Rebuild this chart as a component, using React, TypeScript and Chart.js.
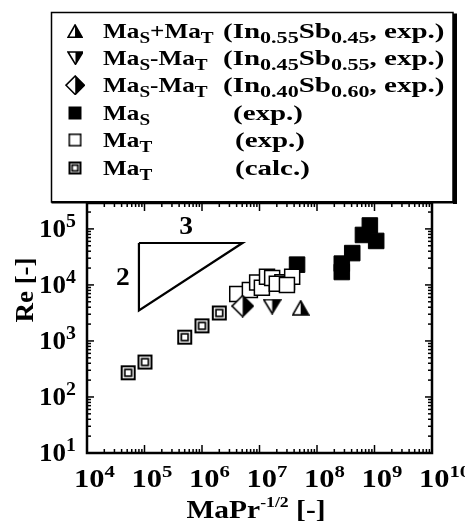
import React, { useEffect, useRef } from "react";
import { Chart, registerables } from "chart.js";

Chart.register(...registerables);

// ---------------- data ----------------
const X_TICK_EXP = [4, 5, 6, 7, 8, 9, 10];
const Y_TICK_EXP = [1, 2, 3, 4, 5];

// MaS+MaT (In0.55Sb0.45, exp.)
const IN055_X = [5.2e7];
const IN055_Y = [3900];
// MaS-MaT (In0.45Sb0.55, exp.)
const IN045_X = [1.66e7];
const IN045_Y = [4100];
// MaS-MaT (In0.40Sb0.60, exp.)
const IN040_X = [5.1e6];
const IN040_Y = [4200];
// MaS (exp.)
const MAS_X = [4.5e7, 3.0e7, 2.7e8, 2.7e8, 4.1e8, 6.3e8, 8.3e8, 1.07e9];
const MAS_Y = [2.3e4, 1.1e4, 1.7e4, 2.4e4, 3.7e4, 7.8e4, 1.15e5, 6.1e4];
// MaT (exp.)
const MAT_EXP_X = [4.1e6, 6.8e6, 9.1e6, 1.1e7, 1.35e7, 1.66e7, 2.5e7, 3.7e7, 2.0e7, 3.0e7];
const MAT_EXP_Y = [6900, 8100, 1.1e4, 8900, 1.4e4, 1.33e4, 1.12e4, 1.4e4, 1.05e4, 1.0e4];
// MaT (calc.)
const MAT_CALC_X = [5.2e4, 1.02e5, 5.0e5, 1.0e6, 2.0e6];
const MAT_CALC_Y = [270, 420, 1170, 1860, 3160];
// slope 2/3 guide triangle
const SLOPE_X = [8e4, 5.05e6, 8e4, 8e4];
const SLOPE_Y = [5.6e4, 5.6e4, 3.5e3, 5.6e4];
const SLOPE_LABELS = ["3", "2"];
const SLOPE_LABEL_X = [5.3e5, 4.2e4];
const SLOPE_LABEL_Y = [1.15e5, 1.4e4];

type Part = [string, boolean];
const LEGEND_MARKERS = ["triUp", "triDown", "diamond", "filled", "open", "double"];
const LEGEND_NAMES: Part[][] = [
  [["Ma", false], ["S", true], ["+Ma", false], ["T", true]],
  [["Ma", false], ["S", true], ["-Ma", false], ["T", true]],
  [["Ma", false], ["S", true], ["-Ma", false], ["T", true]],
  [["Ma", false], ["S", true]],
  [["Ma", false], ["T", true]],
  [["Ma", false], ["T", true]],
];
const LEGEND_CONDS: Part[][] = [
  [["(In", false], ["0.55", true], ["Sb", false], ["0.45", true], [", exp.)", false]],
  [["(In", false], ["0.45", true], ["Sb", false], ["0.55", true], [", exp.)", false]],
  [["(In", false], ["0.40", true], ["Sb", false], ["0.60", true], [", exp.)", false]],
  [["(exp.)", false]],
  [["(exp.)", false]],
  [["(calc.)", false]],
];

// ---------------- helpers ----------------
const SERIF = '"Liberation Serif", "Times New Roman", serif';
const pts = (xs: number[], ys: number[]) => xs.map((x, i) => ({ x, y: ys[i] }));

function makeCanvas(w: number, h: number, draw: (g: CanvasRenderingContext2D) => void) {
  const c = document.createElement("canvas");
  c.width = w;
  c.height = h;
  const g = c.getContext("2d")!;
  draw(g);
  return c;
}

function halfShape(w: number, h: number, kind: string, lw: number) {
  return makeCanvas(w + 2, h + 2, (g) => {
    g.translate(1, 1);
    const p: number[][] =
      kind === "triUp"
        ? [[w / 2, 0], [w, h], [0, h]]
        : kind === "triDown"
        ? [[0, 0], [w, 0], [w / 2, h]]
        : [[w / 2, 0], [w, h / 2], [w / 2, h], [0, h / 2]];
    const path = () => {
      g.beginPath();
      p.forEach(([x, y], i) => (i ? g.lineTo(x, y) : g.moveTo(x, y)));
      g.closePath();
    };
    path();
    g.fillStyle = "#fff";
    g.fill();
    g.save();
    path();
    g.clip();
    g.fillStyle = "#000";
    g.fillRect(w / 2, -2, w, h + 4);
    g.restore();
    path();
    g.lineWidth = lw;
    g.lineJoin = "miter";
    g.strokeStyle = "#000";
    g.stroke();
  });
}

function squareShape(s: number, kind: string, lw: number) {
  return makeCanvas(s + 2, s + 2, (g) => {
    g.translate(1, 1);
    g.lineWidth = lw;
    g.strokeStyle = "#000";
    if (kind === "filled") {
      g.fillStyle = "#000";
      g.fillRect(0, 0, s, s);
      return;
    }
    g.fillStyle = "#fff";
    g.fillRect(0, 0, s, s);
    g.strokeRect(lw / 2, lw / 2, s - lw, s - lw);
    if (kind === "double") {
      const inner = s * 0.45;
      const o = (s - inner) / 2;
      g.lineWidth = lw * 0.85;
      g.strokeRect(o, o, inner, inner);
    }
  });
}

function markerCanvas(kind: string, scale: number) {
  if (kind === "triUp") return halfShape(16 * scale, 14 * scale, kind, 1.6);
  if (kind === "triDown") return halfShape(17 * scale, 14 * scale, kind, 1.6);
  if (kind === "diamond") return halfShape(21 * scale, 21 * scale, kind, 1.6);
  return squareShape(Math.round(15 * scale), kind, kind === "double" ? 2 : 1.5);
}

function drawRich(
  ctx: CanvasRenderingContext2D,
  parts: { t: string; size: number; dy: number }[],
  x: number,
  y: number,
  align: "left" | "center" | "right",
  sx: number
) {
  ctx.save();
  let w = 0;
  for (const p of parts) {
    ctx.font = `bold ${p.size}px ${SERIF}`;
    w += ctx.measureText(p.t).width;
  }
  ctx.translate(x, y);
  ctx.scale(sx, 1);
  let cx = align === "left" ? 0 : align === "center" ? -w / 2 : -w;
  ctx.textAlign = "left";
  ctx.textBaseline = "alphabetic";
  ctx.fillStyle = "#000";
  for (const p of parts) {
    ctx.font = `bold ${p.size}px ${SERIF}`;
    ctx.fillText(p.t, cx, p.dy);
    cx += ctx.measureText(p.t).width;
  }
  ctx.restore();
}

const decor = {
  id: "decor",
  afterDraw(chart: any) {
    const { ctx, chartArea: a } = chart;
    const xs = chart.scales.x;
    const ys = chart.scales.y;
    ctx.save();
    ctx.strokeStyle = "#000";
    const line = (x1: number, y1: number, x2: number, y2: number) => {
      ctx.beginPath();
      ctx.moveTo(x1, y1);
      ctx.lineTo(x2, y2);
      ctx.stroke();
    };
    // ticks
    ctx.lineWidth = 1.5;
    const xMaxE = X_TICK_EXP[X_TICK_EXP.length - 1];
    for (const e of X_TICK_EXP) {
      const px = xs.getPixelForValue(10 ** e);
      line(px, a.bottom, px, a.bottom - 8);
      line(px, a.top, px, a.top + 8);
      if (e < xMaxE)
        for (let k = 2; k <= 9; k++) {
          const q = xs.getPixelForValue(k * 10 ** e);
          line(q, a.bottom, q, a.bottom - 4);
          line(q, a.top, q, a.top + 4);
        }
    }
    for (const e of Y_TICK_EXP) {
      const py = ys.getPixelForValue(10 ** e);
      line(a.left, py, a.left + 7, py);
      line(a.right, py, a.right - 7, py);
      for (let k = 2; k <= 9; k++) {
        if (k * 10 ** e > ys.max) break;
        const q = ys.getPixelForValue(k * 10 ** e);
        line(a.left, q, a.left + 4, q);
        line(a.right, q, a.right - 4, q);
      }
    }
    // frame
    ctx.lineWidth = 2.5;
    ctx.strokeRect(a.left, a.top, a.right - a.left, a.bottom - a.top);

    // tick labels
    for (const e of X_TICK_EXP) {
      const px = xs.getPixelForValue(10 ** e);
      drawRich(ctx, [{ t: "10", size: 25, dy: 0 }, { t: String(e), size: 17, dy: -10 }], px - 13, a.bottom + 34, "left", 1.22);
    }
    for (const e of Y_TICK_EXP) {
      const py = ys.getPixelForValue(10 ** e);
      drawRich(ctx, [{ t: "10", size: 25, dy: 0 }], 66, py + 8, "right", 1.08);
      drawRich(ctx, [{ t: String(e), size: 18, dy: 0 }], 66, py - 2, "left", 1.1);
    }
    // axis titles
    drawRich(
      ctx,
      [
        { t: "MaPr", size: 25, dy: 0 },
        { t: "-1/2", size: 15, dy: -11 },
        { t: " [-]", size: 25, dy: 0 },
      ],
      256,
      518,
      "center",
      1.18
    );
    ctx.save();
    ctx.translate(33, 290);
    ctx.rotate(-Math.PI / 2);
    drawRich(ctx, [{ t: "Re [-]", size: 25, dy: 0 }], 0, 0, "center", 1.08);
    ctx.restore();

    // slope labels
    SLOPE_LABELS.forEach((t, i) => {
      const px = xs.getPixelForValue(SLOPE_LABEL_X[i]);
      const py = ys.getPixelForValue(SLOPE_LABEL_Y[i]);
      drawRich(ctx, [{ t, size: 25, dy: 0 }], px, py + 8, "center", 1.1);
    });

    // legend box
    const L = 51.5, T = 12.5, R = 453, B = 202;
    ctx.fillStyle = "#fff";
    ctx.fillRect(L, T, R - L, B - T);
    ctx.lineWidth = 1.5;
    ctx.strokeRect(L, T, R - L, B - T);
    ctx.fillStyle = "#000";
    ctx.fillRect(R, T + 1, 4, B - T + 1);
    ctx.fillRect(L, B - 1, R - L + 4, 2.5);

    const baselines = [38, 65, 92, 120, 147, 175];
    const condX = [223, 223, 223, 233, 235, 235];
    LEGEND_MARKERS.forEach((m, i) => {
      const c = markerCanvas(m, 0.88);
      ctx.drawImage(c, 75 - c.width / 2, baselines[i] - 7 - c.height / 2);
      const toParts = (ps: Part[]) =>
        ps.map(([t, sub]) => ({ t, size: sub ? 16 : 21, dy: sub ? 5 : 0 }));
      drawRich(ctx, toParts(LEGEND_NAMES[i]), 103, baselines[i], "left", 1.2);
      drawRich(ctx, toParts(LEGEND_CONDS[i]), condX[i], baselines[i], "left", 1.38);
    });
    ctx.restore();
  },
};

export default function App() {
  const ref = useRef<HTMLCanvasElement>(null);
  useEffect(() => {
    const canvas = ref.current!;
    const chart = new Chart(canvas, {
      type: "scatter",
      data: {
        datasets: [
          {
            label: "MaT (calc.)",
            data: pts(MAT_CALC_X, MAT_CALC_Y),
            pointStyle: markerCanvas("double", 1) as any,
            pointRadius: 8,
          },
          {
            label: "MaS+MaT (In0.55Sb0.45, exp.)",
            data: pts(IN055_X, IN055_Y),
            pointStyle: markerCanvas("triUp", 1) as any,
            pointRadius: 8,
          },
          {
            label: "MaS-MaT (In0.45Sb0.55, exp.)",
            data: pts(IN045_X, IN045_Y),
            pointStyle: markerCanvas("triDown", 1) as any,
            pointRadius: 8,
          },
          {
            label: "MaS-MaT (In0.40Sb0.60, exp.)",
            data: pts(IN040_X, IN040_Y),
            pointStyle: markerCanvas("diamond", 1) as any,
            pointRadius: 8,
          },
          {
            label: "MaT (exp.)",
            data: pts(MAT_EXP_X, MAT_EXP_Y),
            pointStyle: "rect",
            pointRadius: 10.6,
            backgroundColor: "#fff",
            borderColor: "#000",
            borderWidth: 1.5,
          },
          {
            label: "MaS (exp.)",
            data: pts(MAS_X, MAS_Y),
            pointStyle: "rect",
            pointRadius: 11,
            backgroundColor: "#000",
            borderColor: "#000",
            borderWidth: 1,
          },
          {
            label: "slope",
            data: pts(SLOPE_X, SLOPE_Y),
            showLine: true,
            pointRadius: 0,
            borderColor: "#000",
            borderWidth: 2.2,
            fill: false,
            tension: 0,
          } as any,
        ],
      },
      options: {
        animation: false,
        responsive: false,
        events: [],
        layout: { padding: { left: 87, right: 33, top: 203, bottom: 73 } },
        plugins: { legend: { display: false }, tooltip: { enabled: false } },
        scales: {
          x: { type: "logarithmic", min: 1e4, max: 1e10, display: false, bounds: "data" } as any,
          y: { type: "logarithmic", min: 10, max: 2.9e5, display: false, bounds: "data" } as any,
        },
      },
      plugins: [decor],
    });
    return () => chart.destroy();
  }, []);
  return (
    <div style={{ position: "absolute", left: 0, top: 0, width: 465, height: 526, background: "#fff" }}>
      <canvas ref={ref} width={465} height={526} style={{ display: "block" }} />
    </div>
  );
}
